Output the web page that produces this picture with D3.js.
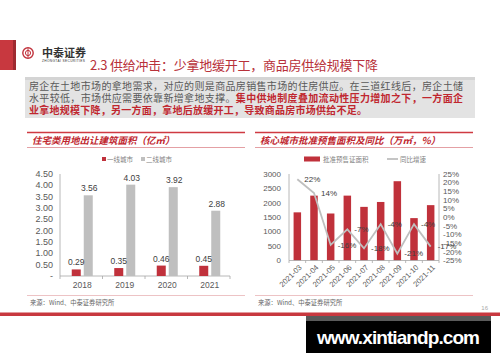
<!DOCTYPE html>
<html>
<head>
<meta charset="utf-8">
<script src="https://cdn.jsdelivr.net/npm/d3@7"></script>
<style>
  body { margin: 0; background: #fff; }
  svg { display: block; }
  text { font-family: "Liberation Sans", Arial, sans-serif; }
  .cjk { font-family: "Noto Sans CJK SC", sans-serif; }
</style>
</head>
<body>
<div id="page"></div>
<script>
// left chart
var years = ['2018', '2019', '2020', '2021'];
var tier1 = [0.29, 0.35, 0.46, 0.45];
var tier2 = [3.56, 4.03, 3.92, 2.88];
var leftTicks = [0, 0.5, 1, 1.5, 2, 2.5, 3, 3.5, 4, 4.5];

// right chart
var months = ['2021-03', '2021-04', '2021-05', '2021-06', '2021-07', '2021-08', '2021-09', '2021-10', '2021-11'];
var presale = [1670, 2250, 1630, 2250, 1860, 2030, 2750, 1470, 1920];
var yoy = [22, 14, -16, -7, -18, -4, -21, -4, -17];
var areaTicks = [0, 500, 1000, 1500, 2000, 2500, 3000];
var pctTicks = [-25, -20, -15, -10, -5, 0, 5, 10, 15, 20, 25];

var red = '#c0313b';
var grey = '#bfbfbf';
var txt = '#404040';

var width = 500, height = 362;

var svg = d3.select('#page')
    .append('svg')
    .attr('width', width)
    .attr('height', height);

// ---- header ----
svg.append('rect').attr('x', 0).attr('y', 40).attr('width', 16).attr('height', 30).attr('fill', '#c8383f');
svg.append('rect').attr('x', 13).attr('y', 40).attr('width', 3).attr('height', 30).attr('fill', '#9e2a30');

var logo = svg.append('g').attr('transform', 'translate(28,53)');
logo.append('circle').attr('r', 5.2).attr('fill', 'none').attr('stroke', red).attr('stroke-width', 1.4);
logo.append('circle').attr('r', 2.6).attr('fill', 'none').attr('stroke', red).attr('stroke-width', 1);
logo.append('line').attr('x1', 0).attr('x2', 0).attr('y1', -4.5).attr('y2', 4.5).attr('stroke', red).attr('stroke-width', 1);

svg.append('text').attr('class', 'cjk')
    .attr('x', 42).attr('y', 57)
    .attr('font-size', 11).attr('font-weight', 'bold').attr('fill', '#333')
    .text('中泰证券');
svg.append('text')
    .attr('x', 42).attr('y', 61.5)
    .attr('font-size', 3.2).attr('fill', '#333')
    .attr('textLength', 43)
    .text('ZHONGTAI SECURITIES');

svg.append('text').attr('class', 'cjk')
    .attr('x', 90).attr('y', 69.5)
    .attr('font-size', 13).attr('fill', '#b8313a')
    .attr('textLength', 288)
    .text('2.3 供给冲击：少拿地缓开工，商品房供给规模下降');

// ---- text box ----
svg.append('rect').attr('x', 25).attr('y', 77).attr('width', 450).attr('height', 41).attr('fill', '#e3e3e3');
svg.append('rect').attr('x', 25).attr('y', 77).attr('width', 450).attr('height', 3).attr('fill', '#d4d4d4');

var para = [
    [['房企在土地市场的拿地需求，对应的则是商品房销售市场的住房供应。在三道红线后，房企土储', false]],
    [['水平较低，市场供应需要依靠新增拿地支撑。', false], ['集中供地制度叠加流动性压力增加之下，一方面企', true]],
    [['业拿地规模下降，另一方面，拿地后放缓开工，导致商品房市场供给不足。', true]]
];
var paraWidths = [434, 434, 338];
para.forEach(function (line, i) {
    var t = svg.append('text').attr('class', 'cjk')
        .attr('x', 29).attr('y', 89.5 + i * 12)
        .attr('font-size', 10)
        .attr('textLength', paraWidths[i])
        .attr('lengthAdjust', 'spacing');
    line.forEach(function (seg) {
        t.append('tspan')
            .attr('fill', seg[1] ? '#c0272f' : '#595959')
            .attr('font-weight', seg[1] ? 'bold' : 'normal')
            .text(seg[0]);
    });
});

// ---- panel frames ----
function panel(x0, title) {
    svg.append('line').attr('x1', x0).attr('x2', x0 + 218).attr('y1', 132.5).attr('y2', 132.5)
        .attr('stroke', '#cf3a42').attr('stroke-width', 1.5);
    svg.append('text').attr('class', 'cjk')
        .attr('x', x0 + 5).attr('y', 144)
        .attr('font-size', 9.5).attr('font-style', 'italic').attr('font-weight', 'bold')
        .attr('fill', '#c0272f')
        .text(title);
    svg.append('line').attr('x1', x0).attr('x2', x0 + 218).attr('y1', 147.5).attr('y2', 147.5)
        .attr('stroke', '#d9777c').attr('stroke-width', 0.7);
    svg.append('line').attr('x1', x0).attr('x2', x0 + 218).attr('y1', 295.5).attr('y2', 295.5)
        .attr('stroke', '#e8b4b6').attr('stroke-width', 0.8);
    svg.append('text').attr('class', 'cjk')
        .attr('x', x0 + 3).attr('y', 305)
        .attr('font-size', 6.3).attr('fill', '#666')
        .text('来源：Wind、中泰证券研究所');
}
panel(27, '住宅类用地出让建筑面积（亿㎡）');
panel(255, '核心城市批准预售面积及同比（万㎡，%）');

// ---- left chart ----
var x_left = d3.scaleBand().domain(years).range([60, 230]);
var y_left = d3.scaleLinear().domain([0, 4.5]).range([276, 174]);

var gl = svg.append('g');
gl.selectAll('.ylab')
    .data(leftTicks)
    .enter()
    .append('text')
    .attr('x', 53)
    .attr('y', function (d) { return y_left(d); })
    .attr('dy', '0.35em')
    .attr('text-anchor', 'end')
    .attr('font-size', 9)
    .attr('fill', '#595959')
    .text(function (d) { return d === 0 ? '-' : d3.format('.2f')(d); });

gl.append('line').attr('x1', 60).attr('x2', 60).attr('y1', 174).attr('y2', 276).attr('stroke', '#a6a6a6').attr('stroke-width', 0.8);
gl.append('line').attr('x1', 60).attr('x2', 230).attr('y1', 276).attr('y2', 276).attr('stroke', '#a6a6a6').attr('stroke-width', 0.8);
gl.selectAll('.xt')
    .data(years.concat(['end']))
    .enter()
    .append('line')
    .attr('x1', function (d, i) { return 60 + i * x_left.step(); })
    .attr('x2', function (d, i) { return 60 + i * x_left.step(); })
    .attr('y1', 276).attr('y2', 279)
    .attr('stroke', '#a6a6a6').attr('stroke-width', 0.8);

var bw = 9;
gl.selectAll('.b1')
    .data(tier1)
    .enter()
    .append('rect')
    .attr('x', function (d, i) { return x_left(years[i]) + x_left.bandwidth() / 2 + 1 - bw - 1.5; })
    .attr('y', function (d) { return y_left(d); })
    .attr('width', bw)
    .attr('height', function (d) { return 276 - y_left(d); })
    .attr('fill', red);
gl.selectAll('.b2')
    .data(tier2)
    .enter()
    .append('rect')
    .attr('x', function (d, i) { return x_left(years[i]) + x_left.bandwidth() / 2 + 1 + 1.5; })
    .attr('y', function (d) { return y_left(d); })
    .attr('width', bw)
    .attr('height', function (d) { return 276 - y_left(d); })
    .attr('fill', grey);

gl.selectAll('.l1')
    .data(tier1)
    .enter()
    .append('text')
    .attr('x', function (d, i) { return x_left(years[i]) + x_left.bandwidth() / 2 + 1 - bw / 2 - 1.5; })
    .attr('y', function (d) { return y_left(d) - 4; })
    .attr('text-anchor', 'middle')
    .attr('font-size', 8.5).attr('fill', txt)
    .text(function (d) { return d.toFixed(2); });
gl.selectAll('.l2')
    .data(tier2)
    .enter()
    .append('text')
    .attr('x', function (d, i) { return x_left(years[i]) + x_left.bandwidth() / 2 + 1 + bw / 2 + 1.5 + 1; })
    .attr('y', function (d) { return y_left(d) - 4; })
    .attr('text-anchor', 'middle')
    .attr('font-size', 8.5).attr('fill', txt)
    .text(function (d) { return d.toFixed(2); });

gl.selectAll('.xlab')
    .data(years)
    .enter()
    .append('text')
    .attr('x', function (d) { return x_left(d) + x_left.bandwidth() / 2 + 1; })
    .attr('y', 288)
    .attr('text-anchor', 'middle')
    .attr('font-size', 8.5).attr('fill', '#595959')
    .text(function (d) { return d; });

// legend left
gl.append('rect').attr('x', 102).attr('y', 157).attr('width', 4).attr('height', 4).attr('fill', red);
gl.append('text').attr('class', 'cjk').attr('x', 107).attr('y', 161.5).attr('font-size', 6.5).attr('fill', '#7f7f7f').text('一线城市');
gl.append('rect').attr('x', 141).attr('y', 157).attr('width', 4).attr('height', 4).attr('fill', grey);
gl.append('text').attr('class', 'cjk').attr('x', 146).attr('y', 161.5).attr('font-size', 6.5).attr('fill', '#7f7f7f').text('二线城市');

// ---- right chart ----
var x_right = d3.scaleBand().domain(months).range([289, 439]).paddingInner(0.55).paddingOuter(0.275);
var y_area = d3.scaleLinear().domain([0, 3000]).range([260.5, 174]);
var y_pct = d3.scaleLinear().domain([-25, 25]).range([260.5, 174]);

var gr = svg.append('g');
gr.selectAll('.ya')
    .data(areaTicks)
    .enter()
    .append('text')
    .attr('x', 281)
    .attr('y', function (d) { return y_area(d); })
    .attr('dy', '0.35em')
    .attr('text-anchor', 'end')
    .attr('font-size', 8).attr('fill', '#595959')
    .text(function (d) { return d; });
gr.selectAll('.yp')
    .data(pctTicks)
    .enter()
    .append('text')
    .attr('x', 443)
    .attr('y', function (d) { return y_pct(d); })
    .attr('dy', '0.35em')
    .attr('font-size', 8).attr('fill', '#595959')
    .text(function (d) { return d + '%'; });

gr.selectAll('.bar')
    .data(presale)
    .enter()
    .append('rect')
    .attr('x', function (d, i) { return x_right(months[i]); })
    .attr('y', function (d) { return y_area(d); })
    .attr('width', x_right.bandwidth())
    .attr('height', function (d) { return y_area(0) - y_area(d); })
    .attr('fill', red);

gr.append('line').attr('x1', 289).attr('x2', 289).attr('y1', 174).attr('y2', 260.5).attr('stroke', '#a6a6a6').attr('stroke-width', 0.8);
gr.append('line').attr('x1', 439).attr('x2', 439).attr('y1', 174).attr('y2', 260.5).attr('stroke', '#a6a6a6').attr('stroke-width', 0.8);
gr.append('line').attr('x1', 289).attr('x2', 439).attr('y1', 260.5).attr('y2', 260.5).attr('stroke', '#a6a6a6').attr('stroke-width', 0.8);
gr.selectAll('.xt')
    .data(months.concat(['end']))
    .enter()
    .append('line')
    .attr('x1', function (d, i) { return 289 + i * x_right.step(); })
    .attr('x2', function (d, i) { return 289 + i * x_right.step(); })
    .attr('y1', 260.5).attr('y2', 263)
    .attr('stroke', '#a6a6a6').attr('stroke-width', 0.8);

var mid = function (i) { return x_right(months[i]) + x_right.bandwidth() / 2; };
var line = d3.line()
    .x(function (d, i) { return mid(i); })
    .y(function (d) { return y_pct(d); });
gr.append('path')
    .datum(yoy)
    .attr('d', line)
    .attr('fill', 'none')
    .attr('stroke', grey)
    .attr('stroke-width', 1.8);

gr.selectAll('.pl')
    .data(yoy)
    .enter()
    .append('text')
    .attr('x', function (d, i) { return mid(i) + 7; })
    .attr('y', function (d) { return y_pct(d); })
    .attr('dy', '0.35em')
    .attr('font-size', 8).attr('fill', txt)
    .text(function (d) { return d + '%'; });

gr.selectAll('.xl')
    .data(months)
    .enter()
    .append('text')
    .attr('transform', function (d, i) { return 'translate(' + (mid(i) + 3) + ',266) rotate(-45)'; })
    .attr('text-anchor', 'end')
    .attr('dy', '0.35em')
    .attr('font-size', 7.6).attr('fill', '#595959')
    .text(function (d) { return d; });

// legend right
gr.append('rect').attr('x', 304).attr('y', 156.5).attr('width', 16).attr('height', 5).attr('fill', red);
gr.append('text').attr('class', 'cjk').attr('x', 323).attr('y', 161.5).attr('font-size', 6.5).attr('fill', '#7f7f7f').text('批准预售证面积');
gr.append('line').attr('x1', 387).attr('x2', 398).attr('y1', 159).attr('y2', 159).attr('stroke', grey).attr('stroke-width', 1.8);
gr.append('text').attr('class', 'cjk').attr('x', 400).attr('y', 161.5).attr('font-size', 6.5).attr('fill', '#7f7f7f').text('同比增速');

// ---- footer ----
svg.append('text')
    .attr('x', 488).attr('y', 310)
    .attr('text-anchor', 'end')
    .attr('font-size', 6).attr('fill', '#aaa')
    .text('16');
svg.append('rect').attr('x', 0).attr('y', 312.5).attr('width', width).attr('height', 3.5).attr('fill', '#c8383f');
svg.append('rect').attr('x', 306).attr('y', 316).attr('width', 185).attr('height', 5).attr('fill', '#5a5a5a');
svg.append('rect').attr('x', 306).attr('y', 321).attr('width', 185).attr('height', 32).attr('fill', '#000');
svg.append('text')
    .attr('x', 317).attr('y', 344)
    .attr('font-family', '"DejaVu Sans", sans-serif')
    .attr('font-size', 19).attr('font-weight', 'bold').attr('fill', '#fff')
    .attr('textLength', 163)
    .text('www.xintiandp.com');
</script>
</body>
</html>
